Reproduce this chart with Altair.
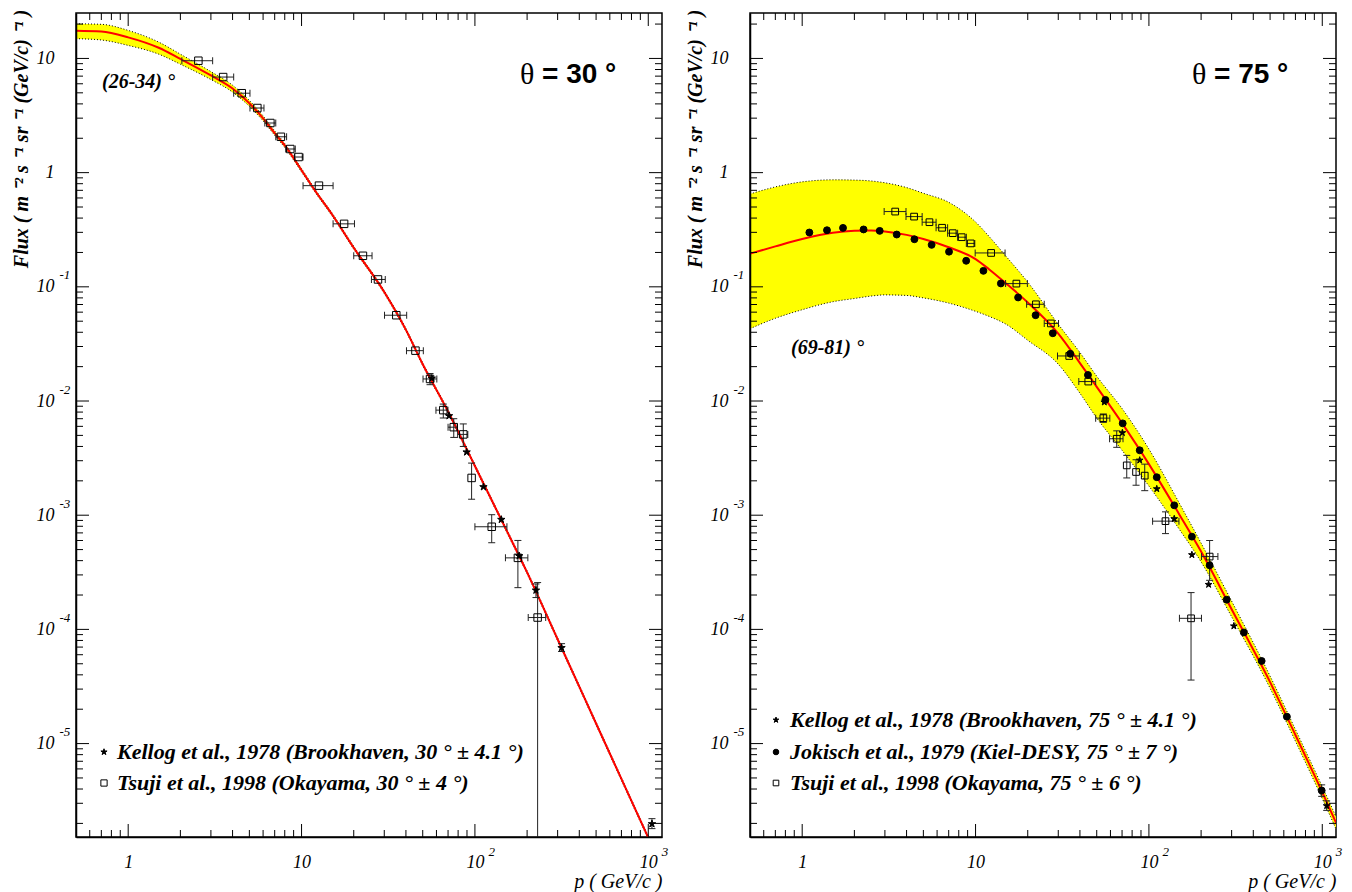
import altair as alt
import pandas as pd

# ------------------------------------------------------------------ texts
Y_TITLE = "Flux ( m ⁻² s ⁻¹ sr ⁻¹ (GeV/c) ⁻¹ )"
X_TITLE = "p  ( GeV/c )"

KEL30 = "Kellog et al., 1978 (Brookhaven, 30 ° ± 4.1 °)"
TSU30 = "Tsuji et al., 1998 (Okayama, 30 ° ± 4 °)"
KEL75 = "Kellog et al., 1978 (Brookhaven, 75 ° ± 4.1 °)"
JOK75 = "Jokisch et al., 1979 (Kiel-DESY, 75 ° ± 7 °)"
TSU75 = "Tsuji et al., 1998 (Okayama, 75 ° ± 6 °)"

ANG30 = "(26-34) °"
ANG75 = "(69-81) °"
THETA = "θ"
EQ30 = "= 30 °"
EQ75 = "= 75 °"

# ------------------------------------------------------------------ axis ticks / labels
X_MAJOR = [1, 10, 100, 1000]
X_BASE_LABELS = ["1", "10", "10", "10"]
X_EXP_VALUES = [100, 1000]
X_EXP_LABELS = ["2", "3"]
Y_MAJOR = [10, 1, 0.1, 0.01, 0.001, 0.0001, 0.00001]
Y_BASE_LABELS = ["10", "1", "10", "10", "10", "10", "10"]
Y_EXP_VALUES = [0.1, 0.01, 0.001, 0.0001, 0.00001]
Y_EXP_LABELS = ["-1", "-2", "-3", "-4", "-5"]

X_DOMAIN = [0.5, 1200]
Y_DOMAIN = [1.52e-6, 25]
X_MINOR = [0.6, 0.7, 0.8, 0.9] + [m * 10.0 ** e for e in range(0, 3) for m in range(2, 10)]
Y_MINOR = [m * 10.0 ** e for e in range(-6, 2) for m in range(2, 10)]
Y_MINOR = [v for v in Y_MINOR if Y_DOMAIN[0] < v < Y_DOMAIN[1]]

# ------------------------------------------------------------------ theta = 30 deg panel
L_CURVE_P = [0.5, 0.7, 1, 1.5, 2, 3, 4, 5, 6, 7, 8, 10, 12, 15, 20, 30, 40, 50, 70, 100,
             150, 200, 300, 500, 700, 1000, 1300]
L_CURVE_F = [17.5, 17.2, 15.3, 12.4, 9.9, 7.1, 5.45, 4.05, 2.99, 2.22, 1.73, 1.05, 0.69,
             0.43, 0.22, 0.09, 0.042, 0.021, 0.0081, 0.0027, 7.7e-4, 3.16e-4, 8.2e-5,
             1.5e-5, 4.9e-6, 1.5e-6, 6.3e-7]
L_BAND_UP = [20.1, 19.9, 17.6, 13.9, 10.9, 7.67, 5.83, 4.29, 3.14, 2.32, 1.80, 1.087, 0.711,
             0.443, 0.2266, 0.0927, 0.0433, 0.0216, 0.00834, 0.00278, 7.93e-4, 3.25e-4,
             8.45e-5, 1.545e-5, 5.05e-6, 1.545e-6, 6.5e-7]
L_BAND_LO = [14.9, 14.5, 13.0, 10.9, 8.9, 6.53, 5.07, 3.81, 2.84, 2.12, 1.66, 1.013, 0.669,
             0.417, 0.2134, 0.0873, 0.0407, 0.0204, 0.00786, 0.00262, 7.47e-4, 3.07e-4,
             7.95e-5, 1.455e-5, 4.75e-6, 1.455e-6, 6.1e-7]

L_TSU_P = [2.54, 3.53, 4.52, 5.56, 6.61, 7.60, 8.61, 9.61, 12.6, 17.6, 22.6, 27.6, 35.2,
           45.4, 55.1, 65.7, 75.5, 85.7, 95.7, 125, 177, 230]
L_TSU_F = [9.55, 6.87, 4.96, 3.68, 2.72, 2.06, 1.61, 1.37, 0.769, 0.356, 0.187, 0.116,
           0.0564, 0.0276, 0.0156, 0.00832, 0.0059, 0.0051, 0.00212, 7.92e-4, 4.23e-4, 1.27e-4]
L_TSU_XLO = [2.04, 3.07, 4.06, 5.04, 6.14, 7.1, 8.1, 9.1, 10.2, 15.2, 20.0, 25.3, 30.1,
             40.3, 50.2, 59.6, 70, 79.5, None, 100, 150, 203]
L_TSU_XHI = [3.07, 4.06, 5.04, 6.07, 7.1, 8.2, 9.2, 10.2, 15.2, 20.2, 25.5, 30.4, 40.4,
             50.4, 60.3, 69.9, 79, 91, None, 153, 202, 256]
L_TSU_YLO = [None] * 14 + [0.0139, 0.0071, 0.0048, 0.0040, 0.00138, 5.74e-4, 2.32e-4, 1e-7]
L_TSU_YHI = [None] * 14 + [0.0174, 0.0094, 0.0070, 0.0063, 0.00286, 1.01e-3, 6.01e-4, 2.57e-4]

L_KEL_P = [56.4, 70.9, 89.6, 112, 142, 180, 225, 316, 1050]
L_KEL_F = [0.0158, 0.00741, 0.00357, 0.00177, 9.16e-4, 4.4e-4, 2.2e-4, 6.9e-5, 1.98e-6]
L_KEL_YLO = [None] * 6 + [1.9e-4, 6.4e-5, 1.8e-6]
L_KEL_YHI = [None] * 6 + [2.5e-4, 7.5e-5, 2.2e-6]

# ------------------------------------------------------------------ theta = 75 deg panel
R_CURVE_P = [0.5, 0.7, 1, 1.5, 2, 2.5, 3, 4, 5, 7, 10, 12, 15, 20, 30, 40, 50, 70, 100,
             150, 200, 300, 500, 700, 1000, 1300]
R_CURVE_F = [0.195, 0.226, 0.262, 0.297, 0.309, 0.311, 0.305, 0.285, 0.262, 0.222, 0.175,
             0.142, 0.107, 0.073, 0.039, 0.0215, 0.0133, 0.0064, 0.0028, 1.01e-3, 4.8e-4,
             1.5e-4, 3.45e-5, 1.19e-5, 3.75e-6, 1.55e-6]
R_BAND_UP = [0.65, 0.75, 0.83, 0.865, 0.86, 0.845, 0.815, 0.74, 0.66, 0.55, 0.37, 0.275,
             0.185, 0.11, 0.047, 0.0266, 0.0165, 0.0086, 0.0038, 1.27e-3, 5.7e-4, 1.77e-4,
             3.9e-5, 1.33e-5, 4.2e-6, 1.75e-6]
R_BAND_LO = [0.043, 0.053, 0.063, 0.074, 0.079, 0.083, 0.085, 0.084, 0.080, 0.072, 0.061,
             0.055, 0.047, 0.034, 0.021, 0.0117, 0.0071, 0.0037, 0.0018, 7.5e-4, 3.9e-4,
             1.29e-4, 3.05e-5, 1.05e-5, 3.3e-6, 1.36e-6]

R_JOK_P = [1.10, 1.39, 1.72, 2.26, 2.80, 3.51, 4.44, 5.58, 7.03, 8.83, 11.1, 14.0, 17.6,
           22.2, 27.9, 35.2, 44.5, 56.1, 70.6, 88.5, 111, 140, 177, 224, 281, 353, 447,
           625, 992]
R_JOK_F = [0.299, 0.313, 0.328, 0.318, 0.309, 0.287, 0.261, 0.233, 0.203, 0.169, 0.138,
           0.107, 0.0807, 0.0564, 0.0392, 0.0259, 0.0169, 0.01023, 0.00637, 0.0037, 0.00215,
           0.00122, 6.49e-4, 3.64e-4, 1.82e-4, 9.4e-5, 5.29e-5, 1.72e-5, 3.88e-6]
R_JOK_YLO = [None] * 28 + [3.45e-6]
R_JOK_YHI = [None] * 28 + [4.35e-6]

R_TSU_P = [3.44, 4.42, 5.42, 6.41, 7.39, 8.32, 9.38, 12.3, 17.2, 22.3, 27.2, 34.7, 44.7,
           54.6, 65.2, 74.5, 84.3, 94.6, 124.6, 175, 224]
R_TSU_F = [0.456, 0.412, 0.368, 0.329, 0.295, 0.272, 0.240, 0.198, 0.1067, 0.0703, 0.0478,
           0.0248, 0.0148, 0.00708, 0.00467, 0.00273, 0.00239, 0.00222, 8.87e-4, 1.25e-4,
           4.34e-4]
R_TSU_XLO = [2.97, 3.97, 4.92, 5.92, 6.9, 7.88, 8.85, 9.95, 14.9, 19.7, 24.9, 29.7, 39.4,
             49.3, 59.3, None, None, None, 105, 150, 201]
R_TSU_XHI = [3.97, 4.92, 5.92, 6.9, 7.88, 8.85, 9.9, 14.8, 19.9, 24.9, 30.1, 39.7, 49.3,
             59.5, 70.9, None, None, None, 149, 201, 250]
R_TSU_YLO = [None] * 13 + [0.0065, 0.00393, 0.00212, 0.00183, 0.00164, 6.9e-4, 3.6e-5, 2.69e-4]
R_TSU_YHI = [None] * 13 + [0.0077, 0.00548, 0.00334, 0.00306, 0.0028, 1.07e-3, 2.1e-4, 6.0e-4]

R_KEL_P = [55.3, 70.3, 88.5, 111, 140, 177, 221, 309, 1060]
R_KEL_F = [0.00977, 0.00527, 0.00303, 0.0017, 9.3e-4, 4.5e-4, 2.47e-4, 1.07e-4, 2.85e-6]
R_KEL_YLO = [None] * 8 + [2.6e-6]
R_KEL_YHI = [None] * 8 + [3.15e-6]

# ------------------------------------------------------------------ style
W, H = 586, 824
SERIF = "Liberation Serif"
SANS = "Liberation Sans"
YELLOW = "#ffff00"
RED = "#ff0000"
ERR = "#222222"
STAR = ("M0,-1L0.2245,-0.309L0.951,-0.309L0.363,0.118L0.588,0.809L0,0.382"
        "L-0.588,0.809L-0.363,0.118L-0.951,-0.309L-0.2245,-0.309Z")
MAJ, MIN = 13, 7
LEG_FONT = 22

XS = alt.Scale(type="log", domain=X_DOMAIN, nice=False)
YS = alt.Scale(type="log", domain=Y_DOMAIN, nice=False)


def jl(lst):
    return "[" + ",".join("'" + s + "'" for s in lst) + "]"


EXP = "round(log(datum.value)/LN10)"

AX_Y_BASE = alt.Axis(
    orient="left", values=Y_MAJOR, labelExpr=f"{jl(Y_BASE_LABELS)}[1-{EXP}]",
    ticks=False, tickSize=0, domain=True, domainColor="black", domainWidth=1.5, grid=False,
    labelFont=SERIF, labelFontStyle="italic", labelFontSize=18, labelColor="black",
    labelPadding=22, labelAlign="right", labelBaseline="middle", labelOverlap=False,
    labelFlush=False, title=Y_TITLE, titleFont=SERIF, titleFontStyle="italic",
    titleFontWeight="bold", titleFontSize=20, titleColor="black", titleAngle=270,
    titleAlign="right", titleBaseline="middle", titleX=-55, titleY=-4, zindex=2)
AX_Y_EXP = alt.Axis(
    orient="left", values=Y_EXP_VALUES, labelExpr=f"{jl(Y_EXP_LABELS)}[-1-{EXP}]",
    ticks=False, tickSize=0, domain=False, grid=False, labelFont=SERIF,
    labelFontStyle="italic", labelFontSize=13, labelColor="black", labelPadding=17,
    labelAlign="left", labelBaseline="middle", labelOffset=-12, labelOverlap=False,
    labelFlush=False, title=None, zindex=2)
AX_X_BASE = alt.Axis(
    orient="bottom", values=X_MAJOR, labelExpr=f"{jl(X_BASE_LABELS)}[{EXP}]",
    ticks=False, tickSize=0, domain=True, domainColor="black", domainWidth=1.5, grid=False,
    labelFont=SERIF, labelFontStyle="italic", labelFontSize=18, labelColor="black",
    labelPadding=25, labelAlign="center", labelBaseline="middle", labelOverlap=False,
    labelFlush=False, title=X_TITLE, titleFont=SERIF, titleFontStyle="italic",
    titleFontWeight="normal", titleFontSize=20, titleColor="black", titleAngle=0,
    titleAlign="right", titleBaseline="middle", titleX=W, titleY=44, zindex=2)
AX_X_EXP = alt.Axis(
    orient="bottom", values=X_EXP_VALUES, labelExpr=f"{jl(X_EXP_LABELS)}[{EXP}-2]",
    ticks=False, tickSize=0, domain=False, grid=False, labelFont=SERIF,
    labelFontStyle="italic", labelFontSize=13, labelColor="black", labelPadding=14,
    labelAlign="left", labelBaseline="middle", labelOffset=13, labelOverlap=False,
    labelFlush=False, title=None, zindex=2)


def series(name, p, f, xlo=None, xhi=None, ylo=None, yhi=None):
    n = len(p)
    none = [None] * n
    return pd.DataFrame({"src": name, "p": p, "F": f,
                         "xlo": xlo or none, "xhi": xhi or none,
                         "ylo": ylo or none, "yhi": yhi or none})


def X(field, axis=None):
    return alt.X(f"{field}:Q", scale=XS, axis=axis)


def Y(field, axis=None):
    return alt.Y(f"{field}:Q", scale=YS, axis=axis)


def one(txt):
    return alt.Chart(pd.DataFrame({"t": [txt]}))


def text_layer(txt, x, y, font, size, style, weight):
    return one(txt).mark_text(
        align="left", baseline="middle", font=font, fontSize=size, fontStyle=style,
        fontWeight=weight, color="black").encode(
        x=alt.value(x), y=alt.value(y), text="t:N")


def inward_ticks():
    """Frame ticks pointing into the plot, drawn on all four sides."""
    out = []
    for vals, size in ((Y_MAJOR, MAJ), (Y_MINOR, MIN)):
        d = pd.DataFrame({"v": vals})
        for xpos in (size / 2, W - size / 2):
            out.append(alt.Chart(d).mark_tick(orient="horizontal", size=size, thickness=1,
                                              color="black", opacity=1).encode(
                y=Y("v"), x=alt.value(xpos)))
    for vals, size in ((X_MAJOR, MAJ), (X_MINOR, MIN)):
        d = pd.DataFrame({"v": vals})
        for ypos in (size / 2, H - size / 2):
            out.append(alt.Chart(d).mark_tick(orient="vertical", size=size, thickness=1,
                                              color="black", opacity=1).encode(
                x=X("v"), y=alt.value(ypos)))
    return out


def legend_layers(entries, sx, tx, rows):
    out = []
    for (name, shape, fill, size), ry in zip(entries, rows):
        out.append(one(name).mark_point(shape=shape, filled=True, fill=fill, stroke="black",
                                        strokeWidth=1, size=size * 0.7, opacity=1).encode(
            x=alt.value(sx), y=alt.value(ry)))
        out.append(one(name).mark_text(align="left", baseline="middle", font=SERIF,
                                       fontSize=LEG_FONT, fontStyle="italic",
                                       fontWeight="bold", color="black").encode(
            x=alt.value(tx), y=alt.value(ry), text="t:N"))
    return out


def panel(cp, cf, up, lo, pts, entries, sx, tx, rows, texts):
    order = [e[0] for e in entries]
    curve = pd.DataFrame({"p": cp, "F": cf, "up": up, "lo": lo})
    area = alt.Chart(curve).mark_area(color=YELLOW, opacity=1, clip=True,
                                      interpolate="monotone").encode(
        x=X("p", AX_X_BASE), y=Y("up", AX_Y_BASE), y2="lo")
    edge_up = alt.Chart(curve).mark_line(color="black", strokeWidth=1, strokeDash=[1, 2],
                                         clip=True, interpolate="monotone").encode(
        x=X("p", AX_X_EXP), y=Y("up", AX_Y_EXP))
    edge_lo = alt.Chart(curve).mark_line(color="black", strokeWidth=1, strokeDash=[1, 2],
                                         clip=True, interpolate="monotone").encode(
        x=X("p"), y=Y("lo"))
    line = alt.Chart(curve).mark_line(color=RED, strokeWidth=2, clip=True,
                                      interpolate="monotone").encode(x=X("p"), y=Y("F"))
    xerr = alt.Chart(pts).transform_filter("isValid(datum.xlo)").mark_rule(
        color=ERR, strokeWidth=1, clip=True).encode(x=X("xlo"), x2="xhi", y=Y("F"))
    yerr = alt.Chart(pts).transform_filter("isValid(datum.ylo)").mark_rule(
        color=ERR, strokeWidth=1, clip=True).encode(x=X("p"), y=Y("ylo"), y2="yhi")
    xcap = alt.Chart(pts).transform_fold(["xlo", "xhi"], as_=["k", "xv"]).transform_filter(
        "isValid(datum.xv)").mark_tick(orient="vertical", size=7, thickness=1, color=ERR,
                                       opacity=1, clip=True).encode(x=X("xv"), y=Y("F"))
    ycap = alt.Chart(pts).transform_fold(["ylo", "yhi"], as_=["k", "yv"]).transform_filter(
        "isValid(datum.yv)").mark_tick(orient="horizontal", size=7, thickness=1, color=ERR,
                                       opacity=1, clip=True).encode(x=X("p"), y=Y("yv"))
    points = alt.Chart(pts).mark_point(filled=True, stroke="black", strokeWidth=1,
                                       opacity=1, clip=True).encode(
        x=X("p"), y=Y("F"),
        shape=alt.Shape("src:N", scale=alt.Scale(domain=order, range=[e[1] for e in entries]),
                        legend=None),
        fill=alt.Fill("src:N", scale=alt.Scale(domain=order, range=[e[2] for e in entries]),
                      legend=None),
        size=alt.Size("src:N", scale=alt.Scale(domain=order, range=[e[3] for e in entries]),
                      legend=None))
    tl = [text_layer(*t) for t in texts]
    layers = [area, edge_up, edge_lo, line, xerr, yerr, xcap, ycap, points]
    layers += inward_ticks() + tl + legend_layers(entries, sx, tx, rows)
    return alt.layer(*layers).resolve_axis(x="independent", y="independent").properties(
        width=W, height=H)


left_pts = pd.concat([
    series(KEL30, L_KEL_P, L_KEL_F, ylo=L_KEL_YLO, yhi=L_KEL_YHI),
    series(TSU30, L_TSU_P, L_TSU_F, L_TSU_XLO, L_TSU_XHI, L_TSU_YLO, L_TSU_YHI),
], ignore_index=True)
right_pts = pd.concat([
    series(KEL75, R_KEL_P, R_KEL_F, ylo=R_KEL_YLO, yhi=R_KEL_YHI),
    series(JOK75, R_JOK_P, R_JOK_F, ylo=R_JOK_YLO, yhi=R_JOK_YHI),
    series(TSU75, R_TSU_P, R_TSU_F, R_TSU_XLO, R_TSU_XHI, R_TSU_YLO, R_TSU_YHI),
], ignore_index=True)

left = panel(L_CURVE_P, L_CURVE_F, L_BAND_UP, L_BAND_LO, left_pts,
             [(KEL30, STAR, "black", 60), (TSU30, "square", "transparent", 56)],
             28, 41, [H - 85, H - 54],
             [(ANG30, 26, 69, SERIF, 20, "italic", "bold"),
              (THETA, 444, 62, SERIF, 30, "normal", "normal"),
              (EQ30, 466, 62, SANS, 28, "normal", "bold")])
right = panel(R_CURVE_P, R_CURVE_F, R_BAND_UP, R_BAND_LO, right_pts,
              [(KEL75, STAR, "black", 50), (JOK75, "circle", "black", 45),
               (TSU75, "square", "transparent", 45)],
              26, 40, [H - 117, H - 85, H - 54],
              [(ANG75, 41, 335, SERIF, 20, "italic", "bold"),
               (THETA, 442, 62, SERIF, 30, "normal", "normal"),
               (EQ75, 464, 62, SANS, 28, "normal", "bold")])

chart = alt.hconcat(left, right, spacing=88, bounds="flush").resolve_scale(
    shape="independent", fill="independent", size="independent").properties(
    padding={"left": 2, "top": 0, "right": 0, "bottom": 0}, background="white"
).configure_view(stroke="black", strokeWidth=1.5)

chart.save("out.html", embed_options={"renderer": "svg", "actions": False})
